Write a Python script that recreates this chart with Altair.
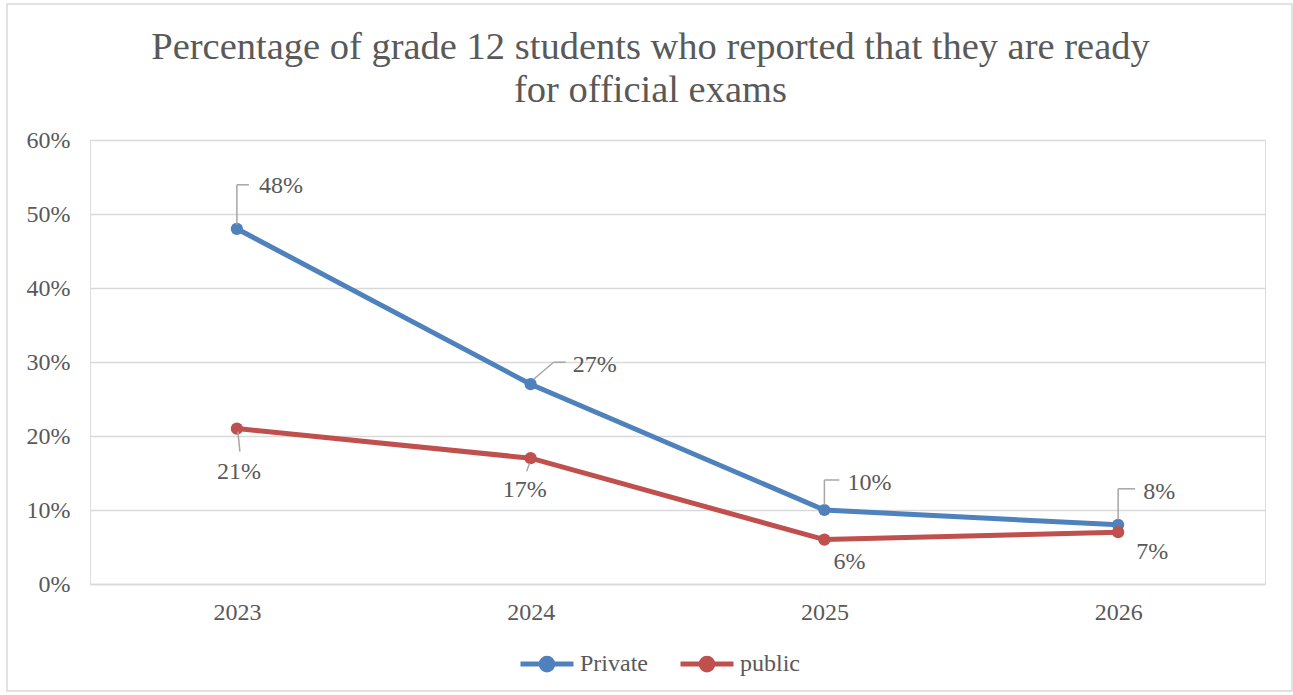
import altair as alt
import pandas as pd

years = ["2023", "2024", "2025", "2026"]
private_vals = [0.48, 0.27, 0.10, 0.08]
public_vals = [0.21, 0.17, 0.06, 0.07]
series_names = ["Private", "public"]
series_colors = ["#4F81BD", "#C0504D"]

rows = []
for y, v in zip(years, private_vals):
    rows.append({"year": y, "value": v, "series": "Private"})
for y, v in zip(years, public_vals):
    rows.append({"year": y, "value": v, "series": "public"})
df = pd.DataFrame(rows)

FONT = "Liberation Serif"
TXT = "#595959"
W, H = 1175, 444

xenc = alt.X("year:O", scale=alt.Scale(type="point", padding=0.5),
             axis=alt.Axis(title=None, labelAngle=0, ticks=False, domain=True,
                           domainColor="#D9D9D9", domainWidth=1.5, grid=False,
                           labelPadding=16, labelFont=FONT, labelFontSize=24,
                           labelColor=TXT))
yenc = alt.Y("value:Q", scale=alt.Scale(domain=[0, 0.6], nice=False),
             axis=alt.Axis(title=None, format=".0%", values=[0, 0.1, 0.2, 0.3, 0.4, 0.5, 0.6],
                           ticks=False, domain=False, grid=True, gridColor="#D9D9D9",
                           gridWidth=1.5, labelPadding=20, labelFont=FONT,
                           labelFontSize=24, labelColor=TXT))
color = alt.Color("series:N", scale=alt.Scale(domain=series_names, range=series_colors),
                  legend=alt.Legend(title=None, orient="none", legendX=428, legendY=495,
                                    direction="horizontal",
                                    symbolType="M-1,0H1M-0.22,0A0.22,0.22 0 1,0 0.22,0A0.22,0.22 0 1,0 -0.22,0",
                                    symbolSize=2809, symbolStrokeWidth=5,
                                    labelFont=FONT, labelFontSize=24, labelColor=TXT,
                                    labelOffset=4, columnPadding=22))

base = alt.Chart(df)
lines = base.mark_line(strokeWidth=5).encode(x=xenc, y=yenc, color=color)
points = base.mark_point(filled=True, size=150, opacity=1).encode(x=xenc, y=yenc, color=color)

# label placement: (dx, dy, align, leader segments [(x1,y1,x2,y2)])
label_style = {
    ("Private", "2023"): (22, -43, "left", [(0, -4, 0, -44), (0, -44, 12, -44)]),
    ("Private", "2024"): (42, -19, "left", [(3, -5, 23, -22), (23, -22, 35, -22)]),
    ("Private", "2025"): (23, -27, "left", [(0, -5, 0, -30), (0, -30, 15, -30)]),
    ("Private", "2026"): (25, -33, "left", [(0, -5, 0, -36), (0, -36, 17, -36)]),
    ("public", "2023"): (2, 43, "center", [(1, 3, 3, 23)]),
    ("public", "2024"): (-6, 32, "center", [(-1, 5, -4, 13)]),
    ("public", "2025"): (25, 22, "center", []),
    ("public", "2026"): (34, 20, "center", []),
}

layers = [lines, points]
for (s, yr), (dx, dy, al, segs) in label_style.items():
    sub = base.transform_filter((alt.datum.series == s) & (alt.datum.year == yr))
    layers.append(sub.mark_text(dx=dx, dy=dy, align=al, baseline="middle", font=FONT,
                                fontSize=24, color=TXT)
                  .encode(x=xenc, y=yenc, text=alt.Text("value:Q", format=".0%")))
    for (x1, y1, x2, y2) in segs:
        layers.append(sub.mark_rule(color="#A6A6A6", strokeWidth=1.5, xOffset=x1, yOffset=y1,
                                    x2Offset=x2, y2Offset=y2)
                      .encode(x=xenc, x2="year:O", y=yenc, y2="value:Q"))

frame = alt.Chart(pd.DataFrame({"a": [0]})).mark_rect(
    fillOpacity=0, stroke="#D9D9D9", strokeWidth=1.5).encode(
    x=alt.value(-83), x2=alt.value(1202), y=alt.value(-136), y2=alt.value(551))
layers.append(frame)

chart = alt.layer(*layers).properties(
    width=W, height=H,
    title=alt.TitleParams(
        text=["Percentage of grade 12 students who reported that they are ready",
              "for official exams"],
        font=FONT, fontSize=38.5, fontWeight="normal", color=TXT, anchor="middle",
        frame="group", lineHeight=43, offset=-107, dx=-27),
    autosize=alt.AutoSizeParams(type="none"),
    padding={"left": 90, "top": 140, "right": 28, "bottom": 111},
).configure_view(stroke=None).configure(background="white")

chart.save("out.html", embed_options={"renderer": "svg", "actions": False})
